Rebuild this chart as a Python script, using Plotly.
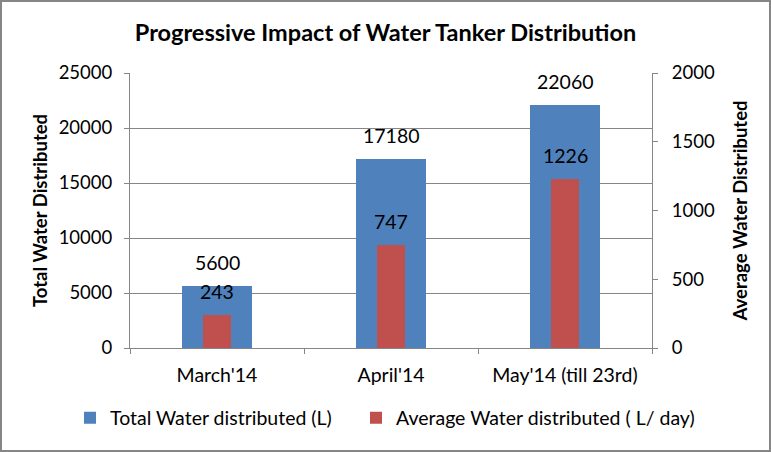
import plotly.graph_objects as go

# Data
months = ["March'14", "April'14", "May'14 (till 23rd)"]
total_water = [5600, 17180, 22060]
avg_water = [243, 747, 1226]

FONT = "Lato, Noto Sans, sans-serif"
GREY = "#868686"

fig = go.Figure()

# Total water (left axis), wide blue bars
fig.add_trace(go.Bar(
    x=months,
    y=total_water,
    name="Total Water distributed (L)",
    marker=dict(color="#4f81bd", line=dict(width=0)),
    width=0.4,
    legend="legend",
))

# Average per day (right axis), narrow red bars
fig.add_trace(go.Bar(
    x=months,
    y=avg_water,
    name="Average Water distributed ( L/ day)",
    marker=dict(color="#c0504d", line=dict(width=0)),
    width=0.16,
    yaxis="y2",
    legend="legend2",
))

# Value labels sitting above each bar
for m, v in zip(months, total_water):
    fig.add_annotation(x=m, y=v, yref="y", text=str(v), showarrow=False,
                       yanchor="bottom", yshift=10, font=dict(size=19.5))
for m, v in zip(months, avg_water):
    fig.add_annotation(x=m, y=v, yref="y2", text=str(v), showarrow=False,
                       yanchor="bottom", yshift=10, font=dict(size=19.5))

legend_style = dict(
    orientation="h",
    xref="container", yref="container",
    xanchor="left",
    y=1 - 418 / 452, yanchor="middle",
    font=dict(size=19.5),
    itemwidth=30,
    bgcolor="rgba(0,0,0,0)",
)

fig.update_layout(
    template="none",
    width=771,
    height=452,
    margin=dict(l=130, r=119, t=73, b=104),
    paper_bgcolor="white",
    plot_bgcolor="white",
    font=dict(family=FONT, size=18, color="black"),
    title=dict(
        text="<b>Progressive Impact of Water Tanker Distribution</b>",
        x=0.5, xanchor="center",
        y=1 - 33 / 452, yanchor="middle",
        font=dict(size=23.5, family=FONT),
    ),
    barmode="overlay",
    bargap=0,
    xaxis=dict(
        showline=True, linecolor=GREY, linewidth=1,
        ticks="outside", tickson="boundaries", ticklen=5, tickcolor=GREY,
        tickfont=dict(size=19.5), ticklabelstandoff=10,
        showgrid=False, zeroline=False,
    ),
    yaxis=dict(
        range=[0, 25000], dtick=5000, tickformat="d",
        showline=True, linecolor=GREY, linewidth=1,
        ticks="outside", ticklen=5, tickcolor=GREY, ticklabelstandoff=8,
        showgrid=True, gridcolor=GREY, gridwidth=1, zeroline=False,
        tickfont=dict(size=18.5),
        title=dict(text="<b>Total Water Distributed</b>",
                   font=dict(size=18.5), standoff=6),
    ),
    yaxis2=dict(
        range=[0, 2000], dtick=500, tickformat="d",
        overlaying="y", side="right",
        showline=True, linecolor=GREY, linewidth=1,
        ticks="outside", ticklen=5, tickcolor=GREY, ticklabelstandoff=10,
        showgrid=False, zeroline=False,
        tickfont=dict(size=18.5),
        title=dict(text="<b>Average Water Distributed</b>",
                   font=dict(size=18.5), standoff=20),
    ),
    legend=dict(legend_style, x=70 / 771),
    legend2=dict(legend_style, x=356 / 771),
    showlegend=True,
)

# Grey frame around the whole chart
fig.add_shape(
    type="rect", xref="paper", yref="paper",
    x0=-129 / 522, x1=1 + 118 / 522,
    y0=-103 / 275, y1=1 + 72 / 275,
    line=dict(color=GREY, width=2),
    fillcolor="rgba(0,0,0,0)",
)

fig.write_html("out.html", config={"displayModeBar": False},
               post_script="document.body.style.margin='0';")
